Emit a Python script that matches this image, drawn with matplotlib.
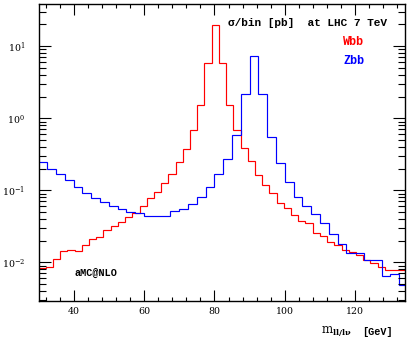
import numpy as np
import matplotlib
matplotlib.use("Agg")
import matplotlib.pyplot as plt
from matplotlib.ticker import MultipleLocator, LogLocator, NullFormatter, FixedLocator

# ---- data -------------------------------------------------------------
# Wbb: bins of width 2.05 GeV starting at 30 GeV
wbb_start = 30.0
wbb_width = 2.05
wbb = [0.0082, 0.0087, 0.0112, 0.0143, 0.0149, 0.0145, 0.0172, 0.0210,
       0.0226, 0.0280, 0.0315, 0.0360, 0.0420, 0.0480, 0.0612, 0.0774,
       0.0940, 0.1260, 0.1670, 0.2470, 0.3780, 0.6860, 1.540, 5.80,
       19.8, 5.80, 1.540, 0.6860, 0.3860, 0.2570, 0.1650, 0.1180,
       0.0920, 0.0666, 0.0568, 0.0455, 0.0377, 0.0356, 0.0259, 0.0233,
       0.0194, 0.0173, 0.0149, 0.0137, 0.0127, 0.0108, 0.0099, 0.0086,
       0.0078, 0.0077, 0.0077]

# Zbb: bins of width 2.5 GeV starting at 30 GeV
zbb_start = 30.0
zbb_width = 2.5
zbb = [0.245, 0.195, 0.168, 0.139, 0.112, 0.0908, 0.079, 0.0695,
       0.0605, 0.0545, 0.0505, 0.0485, 0.0436, 0.0436, 0.0445, 0.0517,
       0.0553, 0.064, 0.081, 0.111, 0.167, 0.269, 0.59, 2.17,
       7.36, 2.17, 0.543, 0.237, 0.129, 0.080, 0.0606, 0.0465,
       0.0348, 0.0248, 0.018, 0.0136, 0.0136, 0.0108, 0.0108, 0.0065,
       0.0069, 0.0049]

x_major = [40, 60, 80, 100, 120]
x_lim = (30, 134)
y_lim = (0.0029, 38.5)

# ---- figure -----------------------------------------------------------
plt.rcParams['font.family'] = ['DejaVu Serif']
plt.rcParams['mathtext.fontset'] = 'dejavuserif'
MONO = ['Liberation Mono', 'DejaVu Sans Mono']

fig = plt.figure(figsize=(4.07, 3.42), dpi=100)
W, H = 407, 342
ax = fig.add_axes([38.5 / W, 1 - 301 / H, 366 / W, 297 / H])

wbb_edges = wbb_start + wbb_width * np.arange(len(wbb) + 1)
zbb_edges = zbb_start + zbb_width * np.arange(len(zbb) + 1)

ax.stairs(wbb, wbb_edges, color='#ff0000', lw=0.85, baseline=None)
ax.stairs(zbb, zbb_edges, color='#0000ff', lw=0.85, baseline=None)

ax.set_yscale('log')
ax.set_xlim(*x_lim)
ax.set_ylim(*y_lim)

ax.xaxis.set_major_locator(FixedLocator(x_major))
ax.xaxis.set_minor_locator(MultipleLocator(4))
ax.yaxis.set_major_locator(LogLocator(base=10))
ax.yaxis.set_minor_locator(LogLocator(base=10, subs=np.arange(2, 10)))
ax.yaxis.set_minor_formatter(NullFormatter())

ax.tick_params(which='both', direction='in', top=True, right=True,
               width=0.8, labelsize=6.8)
ax.tick_params(axis='x', which='major', length=8, pad=4.5)
ax.tick_params(axis='x', which='minor', length=3)
ax.tick_params(axis='y', which='major', length=8.5, pad=9.5)
ax.tick_params(axis='y', which='minor', length=5)
for s in ax.spines.values():
    s.set_linewidth(1.0)

ax.text(0.517, 0.936, 'σ/bin [pb]  at LHC 7 TeV', transform=ax.transAxes,
        family=MONO, fontsize=8, fontweight='bold', va='center', ha='left')
ax.text(0.832, 0.873, 'Wbb', transform=ax.transAxes, color='#ff0000',
        family=MONO, fontsize=8.5, fontweight='bold', va='center', ha='left')
ax.text(0.832, 0.808, 'Zbb', transform=ax.transAxes, color='#0000ff',
        family=MONO, fontsize=8.5, fontweight='bold', va='center', ha='left')
ax.text(0.097, 0.095, 'aMC@NLO', transform=ax.transAxes,
        family=MONO, fontsize=7.3, fontweight='bold', va='center', ha='left')

fig.text(352 / W, 1 - 332 / H, r'$\mathrm{m}_{\mathbf{ll/l\nu}}$',
         fontsize=8.5, ha='right', va='center')
fig.text(393 / W, 1 - 332 / H, '[GeV]', family=MONO,
         fontsize=7.3, fontweight='bold', ha='right', va='center')

fig.savefig('out.png', dpi=100)
